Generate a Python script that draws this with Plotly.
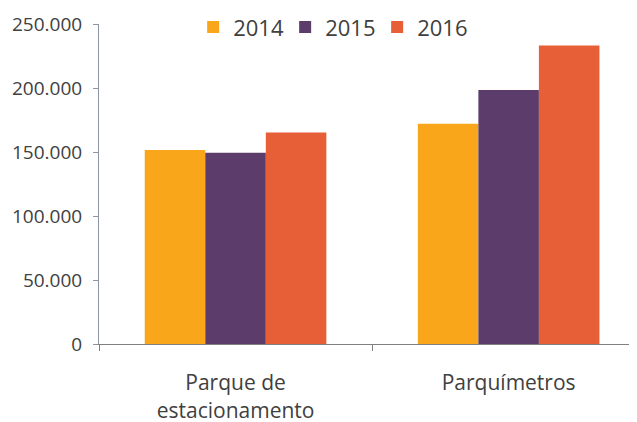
import plotly.graph_objects as go

categories = ["Parque de<br>estacionamento", "Parquímetros"]
years = ["2014", "2015", "2016"]
values_2014 = [151500, 172000]
values_2015 = [149400, 198500]
values_2016 = [165200, 233300]
y_tickvals = [0, 50000, 100000, 150000, 200000, 250000]
y_ticktext = ["0", "50.000", "100.000", "150.000", "200.000", "250.000"]

COLORS = {"2014": "#FAA61A", "2015": "#5C3C6A", "2016": "#E75F36"}
TEXT = "#404040"

fig = go.Figure()
for year, values in zip(years, (values_2014, values_2015, values_2016)):
    fig.add_trace(
        go.Bar(
            x=categories,
            y=values,
            name=year,
            marker={"color": COLORS[year], "line": {"width": 0}},
        )
    )

# page body has an 8px margin, so the figure is sized to fit inside the window
fig.update_layout(
    width=629,
    height=414,
    margin={"l": 91, "r": 0, "t": 16, "b": 78, "autoexpand": False},
    paper_bgcolor="white",
    plot_bgcolor="white",
    font={"family": "Open Sans, sans-serif", "color": TEXT},
    barmode="group",
    bargap=0.335,
    bargroupgap=0,
    legend={
        "orientation": "h",
        "x": 0.175,
        "xanchor": "left",
        "y": 0.99,
        "yanchor": "middle",
        "font": {"size": 22, "color": TEXT},
        "bgcolor": "rgba(0,0,0,0)",
        "entrywidth": 47,
    },
)
fig.update_xaxes(
    range=[-0.5, 1.47],
    showline=True,
    linecolor="#808080",
    linewidth=1,
    ticks="outside",
    tickson="boundaries",
    ticklen=6,
    tickcolor="#808080",
    showgrid=False,
    zeroline=False,
    automargin=False,
    tickfont={"size": 21, "color": TEXT},
    ticklabelstandoff=20,
)
fig.update_yaxes(
    range=[0, 250000],
    tickvals=y_tickvals,
    ticktext=y_ticktext,
    showline=True,
    linecolor="#8C96AA",
    linewidth=1,
    ticks="outside",
    ticklen=5,
    tickcolor="#8C96AA",
    showgrid=False,
    zeroline=False,
    automargin=False,
    tickfont={"size": 19, "color": TEXT},
    ticklabelstandoff=7,
)

fig.write_html("out.html")
